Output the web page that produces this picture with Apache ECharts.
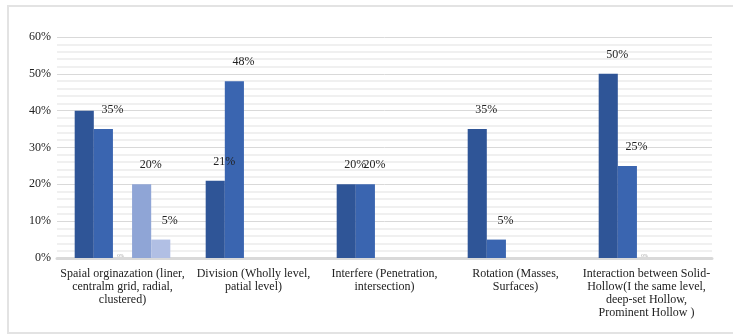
<!DOCTYPE html>
<html>
<head>
<meta charset="utf-8">
<script src="https://cdn.jsdelivr.net/npm/echarts@6/dist/echarts.min.js"></script>
<style>
  html, body { margin: 0; padding: 0; background: #fff; }
  #frame { position: absolute; left: 7px; top: 5px; width: 740px; height: 329px; border: 2px solid #e3e3e3; box-sizing: border-box; }
  #chart { position: absolute; left: 0; top: 0; width: 733px; height: 335px; }
</style>
</head>
<body>
<div id="frame"></div>
<div id="chart"></div>
<script>
const categories = [
  'Spaial orginazation (liner,\ncentralm grid, radial,\nclustered)',
  'Division (Wholly level,\npatial level)',
  'Interfere (Penetration,\nintersection)',
  'Rotation (Masses,\nSurfaces)',
  'Interaction between Solid-\nHollow(I the same level,\ndeep-set Hollow,\nProminent Hollow )'
];
const series1 = [40, 21, 20, 35, 50];
const series2 = [35, 48, 20, 5, 25];
const series3 = [0, null, null, null, 0];
const series4 = [20, null, null, null, null];
const series5 = [5, null, null, null, null];
const yTicks = [0, 10, 20, 30, 40, 50, 60];

const colors = ['#2f5597', '#3a65b0', '#a5a5a5', '#8fa5d6', '#b1bfe4'];
const serif = '"Liberation Serif", "DejaVu Serif", serif';

// the first bar in the first group shows no label in the original
const hidden = { '0-0': true };

function mkSeries(name, data, i) {
  return {
    name: name,
    type: 'bar',
    data: data,
    barGap: '0%',
    barCategoryGap: '27%',
    itemStyle: { color: colors[i] },
    label: {
      show: true,
      position: 'top',
      distance: 5,
      offset: i === 2 ? [-2, 5] : [9, -8],
      fontFamily: serif,
      fontSize: i === 2 ? 5 : 12,
      color: i === 2 ? '#999' : '#222',
      formatter: p => hidden[p.seriesIndex + '-' + p.dataIndex] ? '' : p.value + '%'
    }
  };
}

const chart = echarts.init(document.getElementById('chart'));
chart.setOption({
  animation: false,
  backgroundColor: 'transparent',
  textStyle: { fontFamily: serif },
  grid: { left: 57, right: 21, top: 37, bottom: 77 },
  xAxis: {
    type: 'category',
    data: categories,
    axisLine: { show: true, lineStyle: { color: '#d9d9d9', width: 3 } },
    axisTick: { show: false },
    axisLabel: { fontFamily: serif, fontSize: 12, color: '#222', lineHeight: 13, margin: 9, interval: 0 }
  },
  yAxis: {
    type: 'value',
    min: yTicks[0],
    max: yTicks[yTicks.length - 1],
    interval: 10,
    axisLine: { show: false },
    axisTick: { show: false },
    axisLabel: { fontFamily: serif, fontSize: 12, color: '#222', margin: 6, formatter: '{value}%' },
    splitLine: { lineStyle: { color: '#d9d9d9', width: 1 } },
    minorTick: { show: false, splitNumber: 5 },
    minorSplitLine: { show: true, lineStyle: { color: '#f0f0f0', width: 2 } }
  },
  series: [
    mkSeries('S1', series1, 0),
    mkSeries('S2', series2, 1),
    mkSeries('S3', series3, 2),
    mkSeries('S4', series4, 3),
    mkSeries('S5', series5, 4)
  ]
});
</script>
</body>
</html>
